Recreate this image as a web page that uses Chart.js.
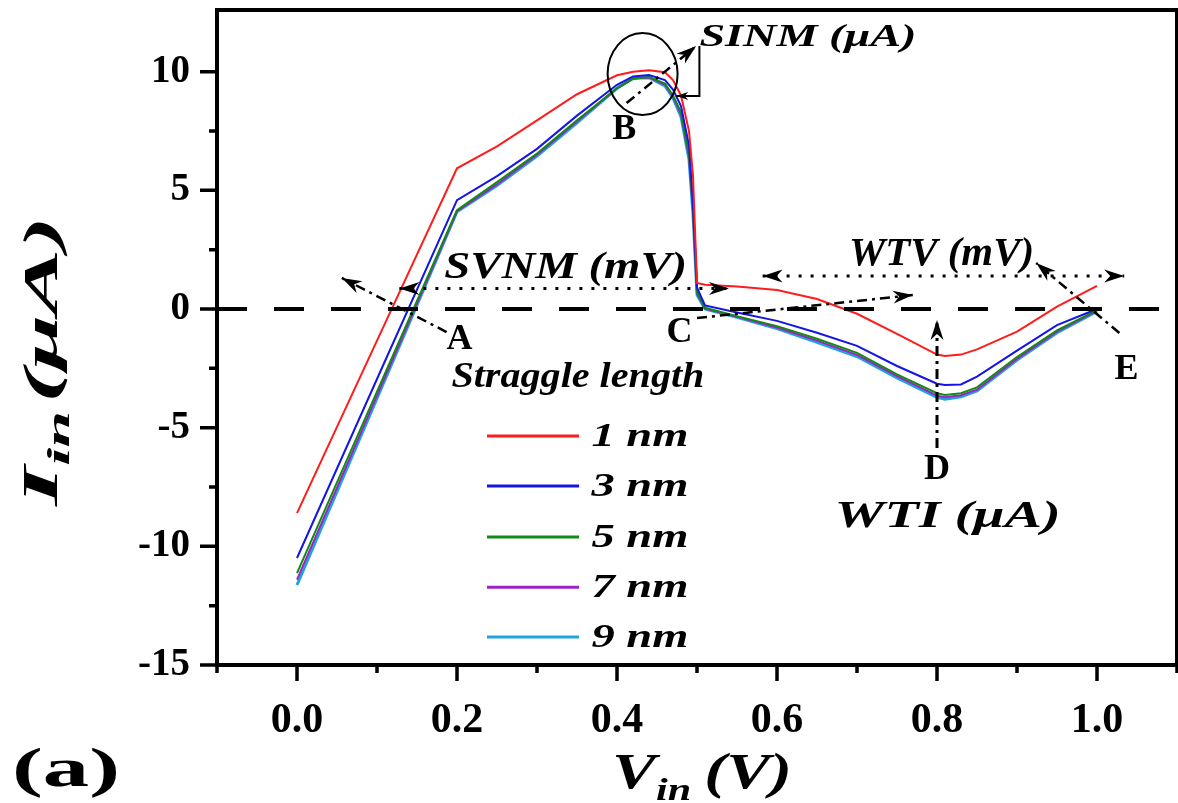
<!DOCTYPE html>
<html lang="en">
<head>
  <meta charset="UTF-8" />
  <title>I-V characteristics vs straggle length</title>
  <script src="https://cdn.jsdelivr.net/npm/chart.js@4.4.1/dist/chart.umd.min.js"></script>
  <style>
    html, body { margin: 0; padding: 0; background: #ffffff; }
    #wrap { width: 1178px; height: 803px; }
  </style>
</head>
<body>
  <div id="wrap"><canvas id="ivChart" width="1178" height="803"></canvas></div>

  <script>
    // ------------
    // DATA
    // ------------
    const vin = [0, 0.1, 0.2, 0.25, 0.3, 0.35, 0.4, 0.42, 0.44, 0.46, 0.47, 0.48, 0.49, 0.495,
                 0.5, 0.51, 0.55, 0.6, 0.65, 0.7, 0.75, 0.8, 0.81, 0.83, 0.85, 0.9, 0.95, 1.0];

    const iin1nm = [-8.6, -1.33, 5.93, 6.85, 7.95, 9.05, 9.85, 10.0, 10.06, 9.98, 9.65, 9.0, 7.5, 5.6,
                    1.1, 1.02, 0.95, 0.8, 0.42, -0.2, -1.05, -1.92, -1.98, -1.92, -1.7, -0.95, 0.1, 0.98];
    const iin3nm = [-10.49, -2.95, 4.59, 5.6, 6.75, 8.15, 9.45, 9.8, 9.86, 9.65, 9.25, 8.55, 6.9, 4.4,
                    0.9, 0.15, -0.15, -0.5, -1.0, -1.55, -2.4, -3.15, -3.2, -3.18, -2.85, -1.75, -0.68, 0.0];
    const iin5nm = [-11.13, -3.48, 4.17, 5.35, 6.55, 7.95, 9.3, 9.7, 9.78, 9.5, 9.0, 8.3, 6.5, 4.3,
                    0.7, 0.05, -0.3, -0.72, -1.25, -1.85, -2.75, -3.55, -3.62, -3.55, -3.3, -2.02, -0.9, -0.05];
    const iin7nm = [-11.4, -3.65, 4.12, 5.25, 6.5, 7.9, 9.3, 9.71, 9.76, 9.45, 8.95, 8.2, 6.4, 4.1,
                    0.65, 0.02, -0.33, -0.78, -1.33, -1.93, -2.83, -3.65, -3.72, -3.63, -3.4, -2.1, -0.95, -0.08];
    const iin9nm = [-11.63, -3.77, 4.1, 5.2, 6.45, 7.85, 9.3, 9.72, 9.75, 9.4, 8.9, 8.1, 6.3, 4.0,
                    0.6, 0.0, -0.35, -0.82, -1.4, -2.0, -2.9, -3.72, -3.8, -3.7, -3.45, -2.15, -1.0, -0.1];

    const seriesNames = ["1 nm", "3 nm", "5 nm", "7 nm", "9 nm"];
    const seriesValues = [iin1nm, iin3nm, iin5nm, iin7nm, iin9nm];
    const seriesColors = ["#ff1c1c", "#1414e6", "#138a13", "#9c24c4", "#22a3de"];
    const seriesWidths = [2, 2, 2, 2, 3];

    const xMajorTicks = [0, 0.2, 0.4, 0.6, 0.8, 1.0];
    const xMinorTicks = [-0.1, 0.1, 0.3, 0.5, 0.7, 0.9, 1.1];
    const yMajorTicks = [-15, -10, -5, 0, 5, 10];
    const yMinorTicks = [-12.5, -7.5, -2.5, 2.5, 7.5];

    const SERIF = '"Liberation Serif", "Times New Roman", serif';

    // -------------------------------
    // DRAW HELPERS
    // -------------------------------
    // text squeezed/stretched to a given pixel width (the figure's fonts are wide)
    function fitText(ctx, text, x, y, size, width, opts) {
      opts = opts || {};
      ctx.save();
      ctx.font = (opts.italic ? "italic " : "") + "bold " + size + "px " + SERIF;
      const w = ctx.measureText(text).width;
      const sx = width ? width / w : 1;
      ctx.translate(x, y);
      ctx.scale(sx, 1);
      ctx.textAlign = opts.align || "left";
      ctx.textBaseline = opts.baseline || "middle";
      ctx.fillStyle = "#000";
      ctx.fillText(text, 0, 0);
      ctx.restore();
    }

    // "I" + subscript "in" + rest, laid out along the current x direction
    function richTitle(ctx, parts, length) {
      let total = 0;
      parts.forEach((p) => {
        ctx.font = "italic bold " + p.size + "px " + SERIF;
        p.w = ctx.measureText(p.text).width;
        total += p.w + (p.gap || 0);
      });
      const sx = length / total;
      ctx.save();
      ctx.scale(sx, 1);
      let cx = 0;
      parts.forEach((p) => {
        ctx.font = "italic bold " + p.size + "px " + SERIF;
        ctx.fillStyle = "#000";
        ctx.textBaseline = "alphabetic";
        ctx.fillText(p.text, cx, p.dy || 0);
        cx += p.w + (p.gap || 0);
      });
      ctx.restore();
    }

    function arrowHead(ctx, x1, y1, x2, y2, len, wid) {
      const a = Math.atan2(y2 - y1, x2 - x1);
      const bx = x2 - len * Math.cos(a), by = y2 - len * Math.sin(a);
      const nx = (wid / 2) * Math.sin(a), ny = (wid / 2) * Math.cos(a);
      ctx.save();
      ctx.setLineDash([]);
      ctx.beginPath();
      ctx.moveTo(x2, y2);
      ctx.lineTo(bx + nx, by - ny);
      ctx.lineTo(x2 - len * 0.7 * Math.cos(a), y2 - len * 0.7 * Math.sin(a));
      ctx.lineTo(bx - nx, by + ny);
      ctx.closePath();
      ctx.fill();
      ctx.restore();
    }

    function styledLine(ctx, pts, dash, width, heads) {
      ctx.save();
      ctx.strokeStyle = "#000";
      ctx.fillStyle = "#000";
      ctx.lineWidth = width;
      ctx.setLineDash(dash);
      ctx.beginPath();
      pts.forEach((p, i) => (i ? ctx.lineTo(p[0], p[1]) : ctx.moveTo(p[0], p[1])));
      ctx.stroke();
      const n = pts.length;
      if (heads.end) arrowHead(ctx, pts[n - 2][0], pts[n - 2][1], pts[n - 1][0], pts[n - 1][1], 20, 13);
      if (heads.start) arrowHead(ctx, pts[1][0], pts[1][1], pts[0][0], pts[0][1], 20, 13);
      ctx.restore();
    }

    const DASHDOT = [10, 5, 3, 5];
    const DOTTED = [3, 9];

    // -------------------------------
    // OVERLAY PLUGIN: frame, ticks, guides, labels, legend
    // -------------------------------
    const overlay = {
      id: "overlay",
      afterDatasetsDraw(chart) {
        const { ctx, chartArea: a } = chart;
        const xs = chart.scales.x, ys = chart.scales.y;
        const P = (x, y) => [xs.getPixelForValue(x), ys.getPixelForValue(y)];

        ctx.save();
        // zero line
        ctx.strokeStyle = "#000";
        ctx.lineWidth = 4;
        ctx.setLineDash([30, 27]);
        ctx.beginPath();
        ctx.moveTo(a.left, ys.getPixelForValue(0));
        ctx.lineTo(a.right, ys.getPixelForValue(0));
        ctx.stroke();
        ctx.setLineDash([]);

        // frame
        ctx.lineWidth = 4;
        ctx.strokeRect(a.left, a.top, a.right - a.left, a.bottom - a.top);

        // ticks (outward)
        ctx.lineWidth = 3.5;
        ctx.beginPath();
        xMajorTicks.forEach((v) => { const p = xs.getPixelForValue(v); ctx.moveTo(p, a.bottom); ctx.lineTo(p, a.bottom + 16); });
        xMinorTicks.forEach((v) => { const p = xs.getPixelForValue(v); ctx.moveTo(p, a.bottom); ctx.lineTo(p, a.bottom + 8); });
        yMajorTicks.forEach((v) => { const p = ys.getPixelForValue(v); ctx.moveTo(a.left, p); ctx.lineTo(a.left - 17, p); });
        yMinorTicks.forEach((v) => { const p = ys.getPixelForValue(v); ctx.moveTo(a.left, p); ctx.lineTo(a.left - 8, p); });
        ctx.stroke();

        // SVNM / WTV dotted spans
        styledLine(ctx, [P(0.128, 0.87), P(0.54, 0.87)], DOTTED, 3, { start: true, end: true });
        styledLine(ctx, [P(0.582, 1.39), P(1.034, 1.39)], DOTTED, 3, { start: true, end: true });

        // dash-dot pointers
        styledLine(ctx, [P(0.187, -0.97), P(0.056, 1.31)], DASHDOT, 2.5, { end: true });
        styledLine(ctx, [P(0.5, -0.38), P(0.77, 0.59)], DASHDOT, 2.5, { end: true });
        styledLine(ctx, [P(0.8, -5.86), P(0.8, -0.46)], DASHDOT, 3, { end: true });
        styledLine(ctx, [P(1.028, -1.01), P(0.924, 1.94)], DASHDOT, 2.5, { end: true });
        styledLine(ctx, [P(0.412, 8.68), P(0.499, 11.08)], DASHDOT, 2.5, { end: true });
        styledLine(ctx, [P(0.503, 11.08), P(0.503, 8.98), P(0.474, 8.98)], [], 2, {});
        ctx.fillStyle = "#000";
        const bk = P(0.503, 8.98), bt = P(0.474, 8.98);
        arrowHead(ctx, bk[0], bk[1], bt[0], bt[1], 12, 8);

        // circle around the peak
        const c = P(0.432, 9.9);
        ctx.lineWidth = 2;
        ctx.beginPath();
        ctx.ellipse(c[0], c[1], 35, 41, 0, 0, Math.PI * 2);
        ctx.stroke();

        // point letters
        [["A", 0.203, -1.31], ["B", 0.409, 7.54], ["C", 0.478, -1.01], ["D", 0.8, -6.78], ["E", 1.037, -2.57]]
          .forEach(([t, x, y]) => { const p = P(x, y); fitText(ctx, t, p[0], p[1], 36, 0, { align: "center" }); });

        // metric labels
        let p = P(0.503, 11.42); fitText(ctx, "SINM (\u03bcA)", p[0], p[1], 32, 217, { italic: true });
        p = P(0.184, 1.73); fitText(ctx, "SVNM (mV)", p[0], p[1], 37, 243, { italic: true });
        p = P(0.69, 2.28); fitText(ctx, "WTV (mV)", p[0], p[1], 40, 185, { italic: true });
        p = P(0.672, -8.77); fitText(ctx, "WTI (\u03bcA)", p[0], p[1], 38, 226, { italic: true });

        // legend
        p = P(0.193, -2.91); fitText(ctx, "Straggle length", p[0], p[1], 35, 253, { italic: true });
        const rowY = [-5.35, -7.46, -9.61, -11.72, -13.82];
        chart.data.datasets.forEach((ds, i) => {
          const l0 = P(0.2375, rowY[i]), l1 = P(0.3526, rowY[i]);
          ctx.strokeStyle = ds.borderColor;
          ctx.lineWidth = 3;
          ctx.beginPath();
          ctx.moveTo(l0[0], l0[1]);
          ctx.lineTo(l1[0], l1[1]);
          ctx.stroke();
          const tp = P(0.368, rowY[i]);
          fitText(ctx, ds.label, tp[0], tp[1] + 1, 33, 97, { italic: true });
        });
        ctx.restore();
      },
      afterDraw(chart) {
        const { ctx } = chart;
        // y title, reading bottom to top
        ctx.save();
        ctx.translate(57, 506);
        ctx.rotate(-Math.PI / 2);
        richTitle(ctx, [
          { text: "I", size: 50 },
          { text: "in", size: 32, dy: 12, gap: 4 },
          { text: "(\u03bcA)", size: 48 }
        ], 290);
        ctx.restore();
        // x title
        ctx.save();
        ctx.translate(612, 788);
        richTitle(ctx, [
          { text: "V", size: 50 },
          { text: "in", size: 32, dy: 12, gap: 10 },
          { text: "(V)", size: 50 }
        ], 180);
        ctx.restore();
        // panel tag
        fitText(ctx, "(a)", 12, 786, 54, 108, { baseline: "alphabetic" });
      }
    };

    // keep the plot box where the figure has it: no extra label padding
    function noPad(s) {
      s.paddingTop = 0;
      s.paddingBottom = 0;
      s.paddingLeft = 0;
      s.paddingRight = 0;
    }

    // -------------------------------
    // CHART
    // -------------------------------
    const datasets = seriesValues.map((vals, i) => ({
      label: seriesNames[i],
      data: vin.map((v, k) => ({ x: v, y: vals[k] })),
      borderColor: seriesColors[i],
      backgroundColor: seriesColors[i],
      borderWidth: seriesWidths[i],
      pointRadius: 0,
      tension: 0,
      fill: false
    }));

    new Chart(document.getElementById("ivChart"), {
      type: "line",
      data: { datasets: datasets },
      options: {
        responsive: false,
        animation: false,
        layout: { padding: { top: 10, right: 1, left: 0, bottom: 0 } },
        plugins: { legend: { display: false }, tooltip: { enabled: false } },
        scales: {
          x: {
            type: "linear",
            min: -0.1,
            max: 1.1,
            grid: { display: false, drawTicks: false },
            border: { display: false },
            afterBuildTicks: (s) => { s.ticks = xMajorTicks.map((v) => ({ value: v })); },
            afterFit: (s) => { s.height = 138; noPad(s); },
            ticks: {
              font: { family: SERIF, size: 42, weight: "bold" },
              color: "#000",
              padding: 31,
              maxRotation: 0,
              autoSkip: false,
              callback: (v) => Number(v).toFixed(1)
            }
          },
          y: {
            type: "linear",
            min: -15,
            max: 12.6,
            grid: { display: false, drawTicks: false },
            border: { display: false },
            afterBuildTicks: (s) => { s.ticks = yMajorTicks.map((v) => ({ value: v })); },
            afterFit: (s) => { s.width = 217; noPad(s); },
            ticks: {
              font: { family: SERIF, size: 39, weight: "bold" },
              color: "#000",
              padding: 27,
              callback: (v) => String(v)
            }
          }
        }
      },
      plugins: [overlay]
    });
  </script>
</body>
</html>
